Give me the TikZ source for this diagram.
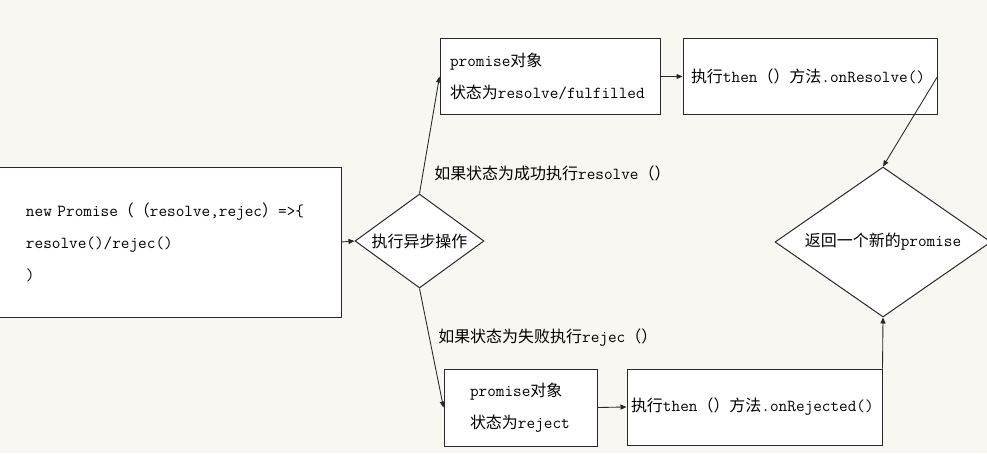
\documentclass[tikz,border=0pt]{standalone}
\usepackage{fontspec}
\setmainfont{Latin Modern Mono}[Scale=1.143]
\newfontfamily\cjk{Noto Sans CJK SC}[Scale=1.09]
\newcommand{\zh}[1]{{\cjk #1}}
\usepackage{tikz}
\usetikzlibrary{shapes.geometric, arrows.meta}
\definecolor{mybg}{RGB}{249,247,241}
\definecolor{myline}{RGB}{40,40,40}
\tikzset{
  box/.style={rectangle, draw=myline, fill=white, align=left,
    font=\fontsize{11}{24}\selectfont, inner ysep=0pt, line width=0.75pt},
  decision/.style={diamond, draw=myline, fill=white, aspect=1.4,
    inner sep=0pt, font=\fontsize{11}{14}\selectfont, line width=0.75pt},
  edgetext/.style={anchor=west, inner xsep=0pt, font=\fontsize{11}{14}\selectfont},
  arrow/.style={-{Triangle[length=4.5pt,width=3.8pt]}, line width=0.65pt, color=myline}
}

\begin{document}
\begin{tikzpicture}[x=0.75pt, y=-0.75pt]
  \fill[mybg] (0,0) rectangle (987,453);
  \useasboundingbox (0,0) rectangle (987,453);

  % start and async step
  \node[box, minimum height=112.5pt, text width=215.25pt, inner xsep=21pt] (start) at (169.5,242)
    {new Promise\zh{（（}resolve,rejec\zh{）}=>\{\\resolve()/rejec()\\)};
  \node[decision, minimum width=96.75pt, minimum height=70.5pt] (async) at (419.5,241) {\zh{执行异步操作}};

  % resolved branch
  \node[box, minimum height=56.25pt, text width=150pt, inner xsep=7.5pt] (res) at (550,76.5)
    {promise\zh{对象}\\\zh{状态为}resolve/fulfilled};
  \node[box, minimum height=56.25pt, text width=178.5pt, inner xsep=6pt] (onres) at (810,76.5)
    {\zh{执行}then\zh{（）方法}.onResolve()};

  % rejected branch
  \node[box, minimum height=57.75pt, text width=75.75pt, inner xsep=19.5pt] (rej) at (520.5,407.5)
    {promise\zh{对象}\\\zh{状态为}reject};
  \node[box, minimum height=57pt, text width=185.25pt, inner xsep=3pt] (onrej) at (754.5,407)
    {\zh{执行}then\zh{（）方法}.onRejected()};

  \node[decision, minimum width=162pt, minimum height=112.5pt, aspect=1.44] (ret) at (883,242)
    {\zh{返回一个新的}promise};

  \node[edgetext] (okres) at (434,173) {\zh{如果状态为成功执行}resolve\zh{（）}};
  \node[edgetext] (norej) at (438,338) {\zh{如果状态为失败执行}rejec\zh{（）}};

  \draw[arrow] (start.east) -- (async.west);
  \draw[arrow] (async.north) -- (res.west);
  \draw[arrow] (async.south) -- (rej.west);
  \draw[arrow] (res.east) -- (onres.west);
  \draw[arrow] (rej.east) -- (onrej.west);
  \draw[arrow] (onres.east) -- (ret.north);
  \draw[arrow] (onrej.north east) -- (ret.south);
\end{tikzpicture}
\end{document}
